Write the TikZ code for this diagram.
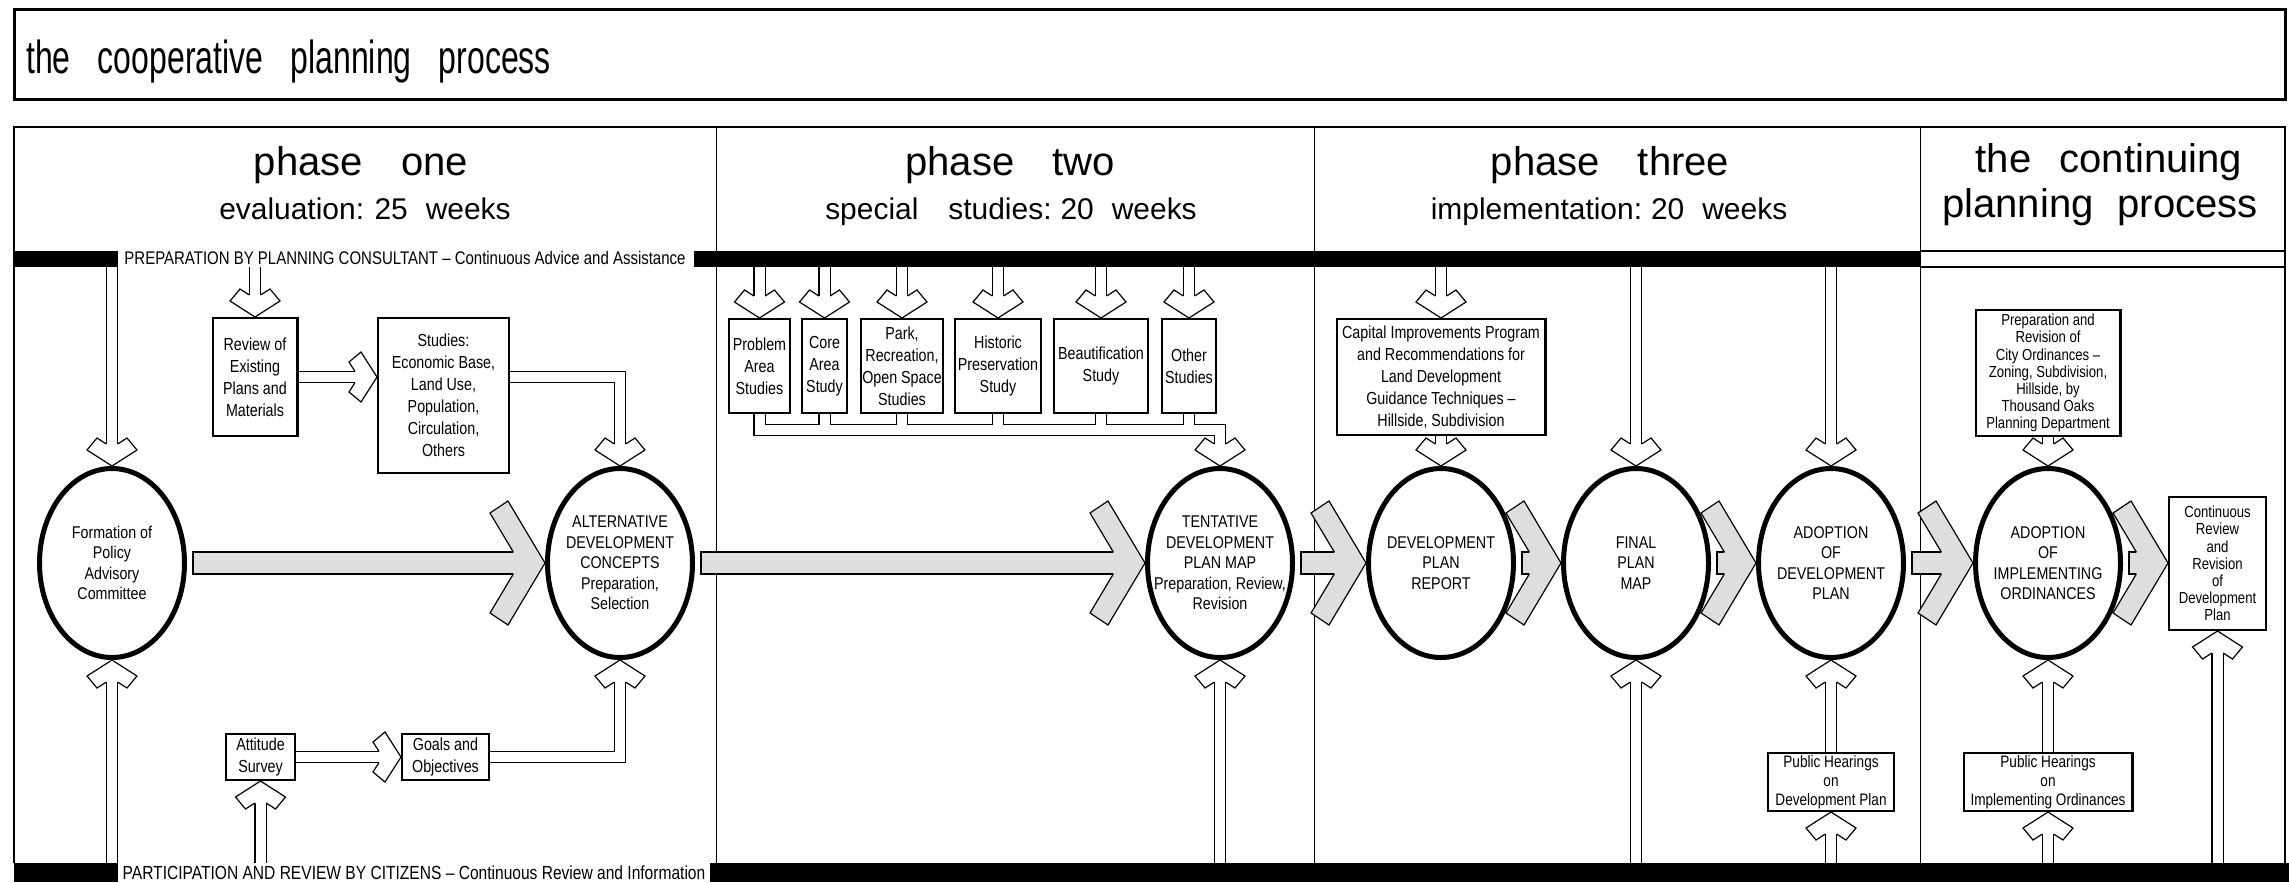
\documentclass[tikz,border=0pt]{standalone}
\usepackage{fontspec}
\setmainfont{Liberation Sans}
\newfontfamily\condensed[FakeStretch=0.82,Ligatures=TeX]{Liberation Sans}
\newfontfamily\semicond[FakeStretch=0.84,Ligatures=TeX]{Liberation Sans}
\usepackage{graphicx}
\usetikzlibrary{calc,shapes.geometric}

% hollow arrows: a double-line shaft and a chevron head at the target
\newcommand\arrdown[2]{\draw[pipe] (#1) -- ($(#2)+(0,-22)$); \pic[rotate=-90] at (#2) {whead};}
\newcommand\arrup[2]{\draw[pipe] (#1) -- ($(#2)+(0,22)$); \pic[rotate=90] at (#2) {whead};}
\newcommand\arrright[2]{\draw[pipe] (#1) -- ($(#2)+(-22,0)$); \pic at (#2) {whead};}
% grey flow arrows between the stages
\newcommand\grayarr[2]{%
  \filldraw[gfill] ($(#2.west |- flow)+(-30.7,-11)$) -- ($(#1.east |- flow)+(6,-11)$)
    -- ($(#1.east |- flow)+(6,11)$) -- ($(#2.west |- flow)+(-30.7,11)$);
  \pic at (#2.west |- flow) {ghead};}

\begin{document}
\begin{tikzpicture}[x=0.25mm,y=-0.25mm,
  pipe/.style={line width=0.3mm, double=white, double distance=2.5mm},
  gfill/.style={fill=black!13, draw=black, line width=0.3mm, line join=miter},
  whead/.pic={\filldraw[fill=white, line width=0.3mm, line join=miter]
    (-22,-5.6) -- (-28,-15) -- (-16,-25) -- (0,0) -- (-16,25) -- (-28,15) -- (-22,5.6);},
  ghead/.pic={\filldraw[gfill]
    (-31.7,-11) -- (-55,-50) -- (-37,-62) -- (0,0) -- (-37,62) -- (-55,50) -- (-31.7,11);},
  stage/.style={ellipse, draw, line width=1.25mm, minimum width=36.25mm,
    minimum height=47.25mm, inner sep=0pt},
  stagetext/.style={align=center, inner sep=0pt, font=\semicond\fontsize{12.1}{14.6}\selectfont},
  task/.style={draw, line width=0.6mm, inner sep=0pt, align=center,
    font=\condensed\fontsize{12.4}{15.6}\selectfont},
  dense/.style={font=\condensed\fontsize{11.4}{12.2}\selectfont},
  hearing/.style={font=\condensed\fontsize{11.8}{13.6}\selectfont},
  boxsize/.style 2 args={minimum width={(#1-2.4)*0.25mm}, minimum height={(#2-2.4)*0.25mm}},
  head/.style={anchor=base, inner sep=0pt, font=\fontsize{28.5}{30}\selectfont},
  subhead/.style={anchor=base, inner sep=0pt, font=\fontsize{21.3}{24}\selectfont},
  barlabel/.style={anchor=base, inner sep=0pt, font=\condensed\fontsize{13}{14}\selectfont}]
\useasboundingbox (0,0) rectangle (2289,882);

% title
\draw[line width=0.75mm] (14,9) rectangle (2285,99);
\node[anchor=base west, inner sep=0pt, font=\fontsize{33}{36}\selectfont] (title) at (26,73)
  {\scalebox{0.69}[1]{the\hspace{0.85em}cooperative\hspace{0.85em}planning\hspace{0.85em}process}};

% frame and phase columns
\draw[line width=0.5mm] (14,863) -- (14,127) -- (2285,127) -- (2285,863);
\foreach \x in {716,1314,1920}
  \draw[line width=0.25mm] (\x,127) -- (\x,863);
\coordinate (topbar) at (0,267);
\coordinate (botbar) at (0,863);
\coordinate (busline) at (0,430);
\coordinate (flow) at (0,563);

\node[head] (ph1) at (361,175) {phase\hspace{0.95em}one};
\node[subhead] (ph1sub) at (365,219) {evaluation:\hspace{0.35em}25\hspace{0.6em}weeks};
\node[head] (ph2) at (1010,175) {phase\hspace{0.95em}two};
\node[subhead] (ph2sub) at (1011,219) {special\hspace{1em}studies:\hspace{0.3em}20\hspace{0.6em}weeks};
\node[head] (ph3) at (1610,175) {phase\hspace{0.95em}three};
\node[subhead] (ph3sub) at (1609,219) {implementation:\hspace{0.3em}20\hspace{0.6em}weeks};
\node[head] (cont1) at (2109,172) {the\hspace{0.7em}continuing};
\node[head] (cont2) at (2100,217) {planning\hspace{0.6em}process};

% consultant and citizen bars
\fill (14,251) rectangle (117.6,267);
\fill (694,251) rectangle (1920,267);
\draw[line width=0.3mm] (1920,251) -- (2285,251) (1920,267) -- (2285,267);
\node[barlabel] (consultant) at (405,264)
  {PREPARATION BY PLANNING CONSULTANT -- Continuous Advice and Assistance};
\fill (14,863) rectangle (117.6,882);
\fill (710,863) rectangle (2289,882);
\node[barlabel, font=\condensed\fontsize{13.5}{14}\selectfont] (citizens) at (414,879)
  {PARTICIPATION AND REVIEW BY CITIZENS -- Continuous Review and Information};

% stages
\node[stage, label={[stagetext]center:Formation of\\Policy\\Advisory\\Committee}] (formation) at (112,563) {};
\node[stage, label={[stagetext]center:ALTERNATIVE\\DEVELOPMENT\\CONCEPTS\\Preparation,\\Selection}] (concepts) at (620,563) {};
\node[stage, label={[stagetext]center:TENTATIVE\\DEVELOPMENT\\PLAN MAP\\Preparation, Review,\\Revision}] (tentative) at (1220,563) {};
\node[stage, label={[stagetext]center:DEVELOPMENT\\PLAN\\REPORT}] (report) at (1441,563) {};
\node[stage, label={[stagetext]center:FINAL\\PLAN\\MAP}] (finalmap) at (1636,563) {};
\node[stage, label={[stagetext]center:ADOPTION\\OF\\DEVELOPMENT\\PLAN}] (adoptplan) at (1831,563) {};
\node[stage, label={[stagetext]center:ADOPTION\\OF\\IMPLEMENTING\\ORDINANCES}] (adoptord) at (2048,563) {};

% tasks
\node[task, boxsize={87}{120}] (review) at (255,377) {Review of\\Existing\\Plans and\\Materials};
\node[task, boxsize={133}{157}] (studies) at (443.5,395.5)
  {Studies:\\Economic Base,\\Land Use,\\Population,\\Circulation,\\Others};
\node[task, boxsize={71}{48}] (attitude) at (260.5,757) {Attitude\\Survey};
\node[task, boxsize={89}{48}] (goals) at (445.5,757) {Goals and\\Objectives};
\node[task, boxsize={63}{96}] (problem) at (759.5,366) {Problem\\Area\\Studies};
\node[task, boxsize={47}{96}] (core) at (824.5,366) {Core\\Area\\Study};
\node[task, boxsize={84}{96}] (park) at (902,366) {Park,\\Recreation,\\Open Space\\Studies};
\node[task, boxsize={88}{96}] (historic) at (998,366) {Historic\\Preservation\\Study};
\node[task, boxsize={96}{96}] (beauty) at (1101,366) {Beautification\\Study};
\node[task, boxsize={56}{96}] (other) at (1189,366) {Other\\Studies};
\node[task, boxsize={211}{118}] (capital) at (1441,377)
  {Capital Improvements Program\\and Recommendations for\\Land Development\\Guidance Techniques --\\Hillside, Subdivision};
\node[task, hearing, boxsize={128}{60}] (pubplan) at (1831,782) {Public Hearings\\on\\Development Plan};
\node[task, dense, boxsize={147}{128}] (prep) at (2048,373)
  {Preparation and\\Revision of\\City Ordinances --\\Zoning, Subdivision,\\Hillside, by\\Thousand Oaks\\Planning Department};
\node[task, hearing, boxsize={171}{60}] (pubord) at (2048,782) {Public Hearings\\on\\Implementing Ordinances};
\node[task, dense, boxsize={99}{135}] (continuous) at (2217.5,563.5)
  {Continuous\\Review\\and\\Revision\\of\\Development\\Plan};

% phase one
\arrdown{formation.north |- topbar}{formation.north}
\arrup{formation.south |- botbar}{formation.south}
\arrdown{review.north |- topbar}{review.north}
\arrright{review.east}{review.east -| studies.west}
\draw[pipe] (studies.east |- review.east) -| ($(concepts.north)+(0,-22)$);
\pic[rotate=-90] at (concepts.north) {whead};
\arrup{attitude.south |- botbar}{attitude.south}
\arrright{attitude.east}{goals.west}
\draw[pipe] (goals.east) -| ($(concepts.south)+(0,22)$);
\pic[rotate=90] at (concepts.south) {whead};

% phase two
\foreach \b in {problem,core,park,historic,beauty,other}
  {\arrdown{\b.north |- topbar}{\b.north}}
\draw[pipe] (problem.south) |- (tentative.north |- busline) -- ($(tentative.north)+(0,-22)$)
  (core.south) -- (core.south |- busline)
  (park.south) -- (park.south |- busline)
  (historic.south) -- (historic.south |- busline)
  (beauty.south) -- (beauty.south |- busline)
  (other.south) -- (other.south |- busline);
\pic[rotate=-90] at (tentative.north) {whead};
\arrup{tentative.south |- botbar}{tentative.south}

% phase three
\arrdown{capital.north |- topbar}{capital.north}
\arrdown{capital.south}{report.north}
\arrdown{finalmap.north |- topbar}{finalmap.north}
\arrup{finalmap.south |- botbar}{finalmap.south}
\arrdown{adoptplan.north |- topbar}{adoptplan.north}
\arrup{pubplan.north}{adoptplan.south}
\arrup{pubplan.south |- botbar}{pubplan.south}

% continuing process
\arrdown{prep.south}{adoptord.north}
\arrup{pubord.north}{adoptord.south}
\arrup{pubord.south |- botbar}{pubord.south}
\arrup{continuous.south |- botbar}{continuous.south}

% main flow
\grayarr{formation}{concepts}
\grayarr{concepts}{tentative}
\grayarr{tentative}{report}
\grayarr{report}{finalmap}
\grayarr{finalmap}{adoptplan}
\grayarr{adoptplan}{adoptord}
\grayarr{adoptord}{continuous}
\end{tikzpicture}
\end{document}
